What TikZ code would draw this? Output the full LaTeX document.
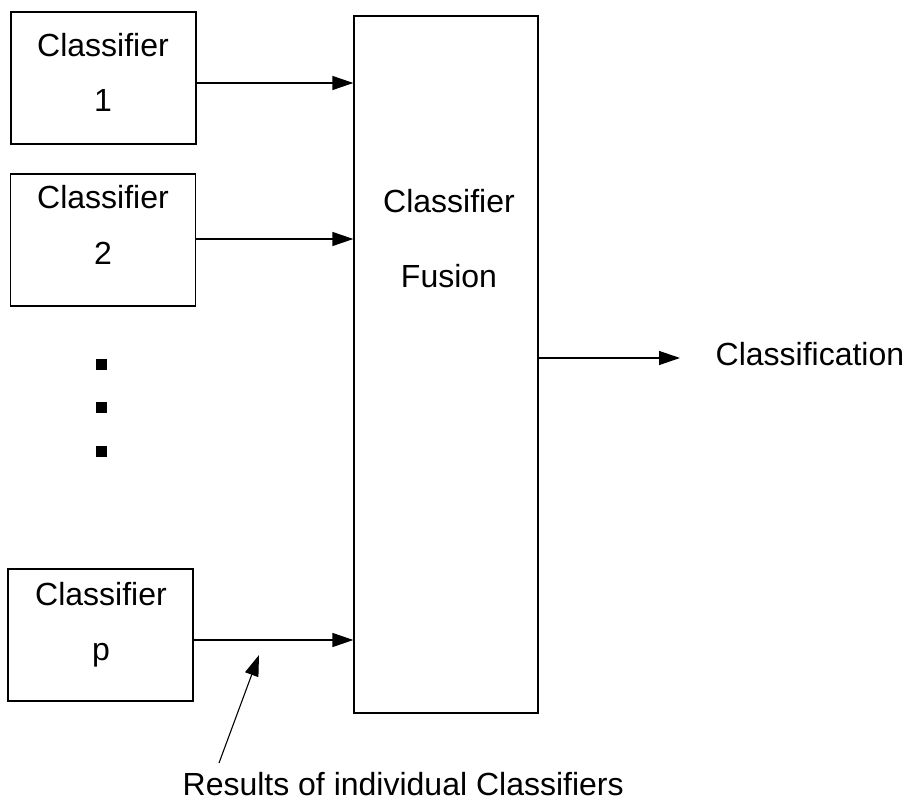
\documentclass[tikz,border=0pt]{standalone}
\usepackage{fontspec}
\setmainfont{Liberation Sans}
\usetikzlibrary{arrows.meta}
\begin{document}
\begin{tikzpicture}[x=1pt,y=-1pt,
  line width=1.3pt,
  cbox/.style={draw,inner sep=0pt,minimum width=185pt,minimum height=132pt},
  fbox/.style={draw,inner sep=0pt,minimum width=184pt,minimum height=697pt},
  txt/.style={inner sep=0pt,anchor=base,font=\fontsize{32}{38}\selectfont},
  dotsq/.style={fill,inner sep=0pt,minimum size=11pt},
  arr/.style={-{Triangle[length=21pt,width=14pt]}}]
\useasboundingbox (0,0) rectangle (913,810);

% classifier boxes
\node[cbox] (c1) at (103.5,78) {};
\node[cbox] (c2) at (103,240) {};
\node[cbox] (cp) at (100.5,635) {};
\node[txt] (c1a) at (103,57) {Classifier};
\node[txt] (c1b) at (103,112) {1};
\node[txt] (c2a) at (103,209) {Classifier};
\node[txt] (c2b) at (103,265) {2};
\node[txt] (cpa) at (101,605) {Classifier};
\node[txt] (cpb) at (101,660) {p};

% ellipsis between classifier 2 and p
\node[dotsq] (d1) at (101,364) {};
\node[dotsq] (d2) at (101,407) {};
\node[dotsq] (d3) at (101,451) {};

% fusion box
\node[fbox] (fus) at (446,364.5) {};
\node[txt] (fa) at (449,213) {Classifier};
\node[txt] (fb) at (449,288) {Fusion};

% classifier outputs into the fusion stage
\draw[arr] ([yshift=-5pt]c1.east) -- ([yshift=-5pt]c1.east -| fus.west);
\draw[arr] ([yshift=1pt]c2.east) -- ([yshift=1pt]c2.east -| fus.west);
\draw[arr] ([yshift=-5pt]cp.east) -- ([yshift=-5pt]cp.east -| fus.west);

% final output
\node[txt,anchor=base west] (cls) at (715,365) {Classification};
\coordinate (otip) at (680,358);
\draw[arr] (fus.east |- otip) -- (otip);

% annotation
\node[txt,anchor=base west] (res) at (182,795) {Results of individual Classifiers};
\coordinate (rs) at (219,763);
\coordinate (rt) at (259,655);
\draw[arr,line width=1.1pt] (rs) -- (rt);
\end{tikzpicture}
\end{document}
